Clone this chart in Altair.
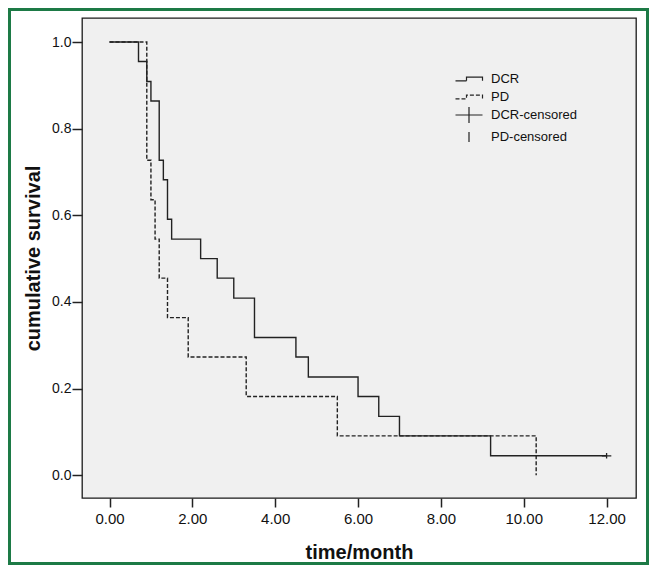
import altair as alt
import pandas as pd

# ---- data ----
dcr_times = [0.0, 0.7, 0.9, 1.0, 1.2, 1.3, 1.4, 1.5, 2.2, 2.6, 3.0, 3.5, 4.5, 4.8, 6.0, 6.5, 7.0, 9.2, 12.0]
dcr_surv = [1.0, 0.955, 0.909, 0.864, 0.727, 0.682, 0.591, 0.545, 0.5, 0.455, 0.409, 0.318, 0.273, 0.227,
            0.182, 0.136, 0.091, 0.045, 0.045]
pd_times = [0.0, 0.9, 1.0, 1.1, 1.2, 1.4, 1.9, 3.3, 5.5, 10.3]
pd_surv = [1.0, 0.727, 0.636, 0.545, 0.455, 0.364, 0.273, 0.182, 0.091, 0.0]
cens_times = [12.0]
cens_surv = [0.045]
cens_group = ["DCR-censored"]

labels = ["DCR", "PD", "DCR-censored", "PD-censored"]
x_ticks = [0, 2, 4, 6, 8, 10, 12]
y_ticks = [0.0, 0.2, 0.4, 0.6, 0.8, 1.0]

lines = pd.DataFrame({
    "time": dcr_times + pd_times,
    "surv": dcr_surv + pd_surv,
    "group": ["DCR"] * len(dcr_times) + ["PD"] * len(pd_times),
    "order": list(range(len(dcr_times))) + list(range(len(pd_times))),
})
cens = pd.DataFrame({"time": cens_times, "surv": cens_surv, "group": cens_group})

# ---- styling ----
FONT = "Liberation Sans"
W, H = 554, 480
step_path = "M-1.35,0.18 H-0.25 V-0.18 H1.35 V0.18"
cross_path = "M-1.35,0 H1.35 M0,-0.8 V0.8"
bar_path = "M0,-0.5 V0.5"

legend_kw = dict(
    title=None, orient="none", legendX=376, legendY=50,
    labelFont=FONT, labelFontSize=13, labelColor="#111",
    symbolSize=400, symbolStrokeColor="#222", symbolFillColor="transparent",
    symbolStrokeWidth=1.2, symbolOpacity=1, labelOffset=11, rowPadding=0,
)

x_scale = alt.Scale(domain=[-0.664, 12.71], nice=False, zero=False)
y_scale = alt.Scale(domain=[-0.0524, 1.0554], nice=False, zero=False)

x_axis = alt.Axis(values=x_ticks, format=".2f", title="time/month", grid=False, domain=False,
                  tickSize=9, tickWidth=1.5, tickColor="#222", labelPadding=4,
                  labelFont=FONT, labelFontSize=15, labelColor="#111",
                  titleFont=FONT, titleFontSize=20, titleFontWeight="bold", titleColor="#111",
                  titlePadding=16)
y_axis = alt.Axis(values=y_ticks, format=".1f", title="cumulative survival", grid=False, domain=False,
                  tickSize=10, tickWidth=1.5, tickColor="#222", labelPadding=1,
                  labelFont=FONT, labelFontSize=14, labelColor="#111",
                  titleFont=FONT, titleFontSize=20, titleFontWeight="bold", titleColor="#111",
                  titlePadding=8)

line_layer = alt.Chart(lines).mark_line(interpolate="step-after", color="#222", strokeWidth=1.4).encode(
    x=alt.X("time:Q", scale=x_scale, axis=x_axis),
    y=alt.Y("surv:Q", scale=y_scale, axis=y_axis),
    strokeDash=alt.StrokeDash("group:N",
                              scale=alt.Scale(domain=labels, range=[[1, 0], [4, 2], [1, 0], [1, 0]]),
                              legend=alt.Legend(**legend_kw)),
    order="order:Q",
    detail="group:N",
)

cens_layer = alt.Chart(cens).mark_point(filled=False, color="#222", strokeWidth=1.3, size=49, opacity=1).encode(
    x=alt.X("time:Q", scale=x_scale),
    y=alt.Y("surv:Q", scale=y_scale),
    shape=alt.Shape("group:N",
                    scale=alt.Scale(domain=labels, range=[step_path, step_path, cross_path, bar_path]),
                    legend=alt.Legend(**legend_kw)),
)

border = alt.Chart(pd.DataFrame({"k": [0]})).mark_rect(
    fill="transparent", stroke="#1d7a46", strokeWidth=3
).encode(
    x=alt.value(-72.5), x2=alt.value(W + 11.5),
    y=alt.value(-8.5), y2=alt.value(H + 65.5),
)

chart = alt.layer(line_layer, cens_layer, border).properties(
    width=W, height=H,
    autosize=alt.AutoSizeParams(type="none"),
    padding={"left": 74, "top": 10, "right": 13, "bottom": 67},
    background="white",
).configure_view(
    fill="#f0f0f0", stroke="#1a1a1a", strokeWidth=1.3
)

chart.save("out.html", embed_options={"renderer": "svg", "actions": False})
